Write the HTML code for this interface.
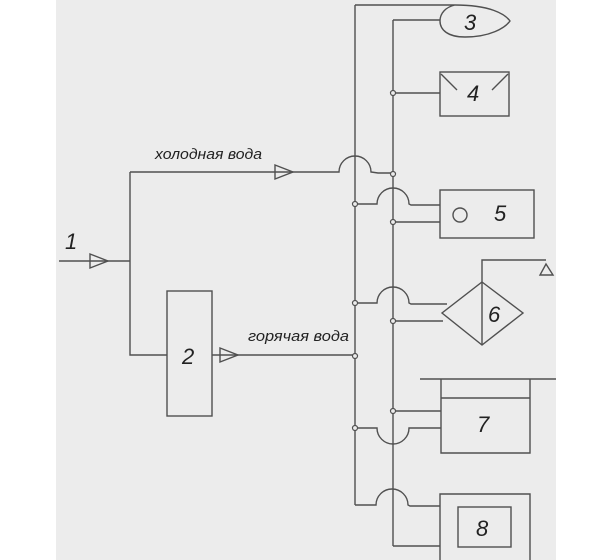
<!DOCTYPE html>
<html><head><meta charset="utf-8"><style>
html,body{margin:0;padding:0;background:#fff;}
svg{display:block;}
text{font-family:"Liberation Sans",sans-serif;font-style:italic;fill:#222;}
</style></head><body>
<svg width="610" height="560" viewBox="0 0 610 560" xmlns="http://www.w3.org/2000/svg">
<rect x="56" y="0" width="500" height="560" fill="#ececec"/>
<g fill="none" stroke="#505050" stroke-width="1.4">
<path d="M59,261 H130"/>
<path d="M90,254 L108,261 L90,268 Z"/>
<path d="M130,172 V355 H167"/>
<path d="M130,172 H339 A16,16 0 0 1 371,172 L378,173 H393"/>
<path d="M275,165 L293,172 L275,179 Z"/>
<rect x="167" y="291" width="45" height="125"/>
<path d="M212,355 H355"/>
<path d="M220,348 L238,355 L220,362 Z"/>
<path d="M355,5 V505"/>
<path d="M393,20 V546"/>
<path d="M355,5 H455 C490,5 505,14 510,21 C505,28 490,37 465,37 C448,37 440,30 440,21 C440,13 446,7 455,5"/>
<path d="M393,20 H440"/>
<rect x="440" y="72" width="69" height="44"/>
<path d="M441,74 L457,90 M508,74 L492,90"/>
<path d="M393,93 H440"/>
<rect x="440" y="190" width="94" height="48"/>
<circle cx="460" cy="215" r="7"/>
<path d="M355,204 H377 A16,16 0 0 1 409,204 L411,205 H440"/>
<path d="M393,222 H440"/>
<path d="M482,282 L523,313 L482,345 L442,313 Z"/>
<path d="M482,345 V260 H546"/>
<path d="M546,264 L553,275 L540,275 Z"/>
<path d="M355,303 H377 A16,16 0 0 1 409,303 L411,304 H447"/>
<path d="M393,321 H443"/>
<path d="M420,379 H556"/>
<path d="M441,379 V453 H530 V379 M441,398 H530"/>
<path d="M393,411 H441"/>
<path d="M355,428 H377 A16,16 0 0 0 409,428 H441"/>
<path d="M440,560 V494 H530 V560"/>
<rect x="458" y="507" width="53" height="40"/>
<path d="M355,505 H376 A16,16 0 0 1 408,505 L410,506 H440"/>
<path d="M393,546 H440"/>
</g>
<g fill="#ececec" stroke="#505050" stroke-width="1.2">
<circle cx="393" cy="93" r="2.5"/>
<circle cx="393" cy="174" r="2.5"/>
<circle cx="355" cy="204" r="2.5"/>
<circle cx="393" cy="222" r="2.5"/>
<circle cx="355" cy="303" r="2.5"/>
<circle cx="393" cy="321" r="2.5"/>
<circle cx="355" cy="356" r="2.5"/>
<circle cx="393" cy="411" r="2.5"/>
<circle cx="355" cy="428" r="2.5"/>
</g>
<text x="65" y="249" font-size="22">1</text>
<text x="182" y="364" font-size="22">2</text>
<text x="464" y="30" font-size="22">3</text>
<text x="467" y="101" font-size="22">4</text>
<text x="494" y="221" font-size="22">5</text>
<text x="488" y="322" font-size="22">6</text>
<text x="477" y="432" font-size="22">7</text>
<text x="476" y="536" font-size="22">8</text>
<text x="155" y="159" font-size="15" textLength="107" lengthAdjust="spacingAndGlyphs">холодная вода</text>
<text x="248" y="341" font-size="15" textLength="101" lengthAdjust="spacingAndGlyphs">горячая вода</text>
</svg>
</body></html>
